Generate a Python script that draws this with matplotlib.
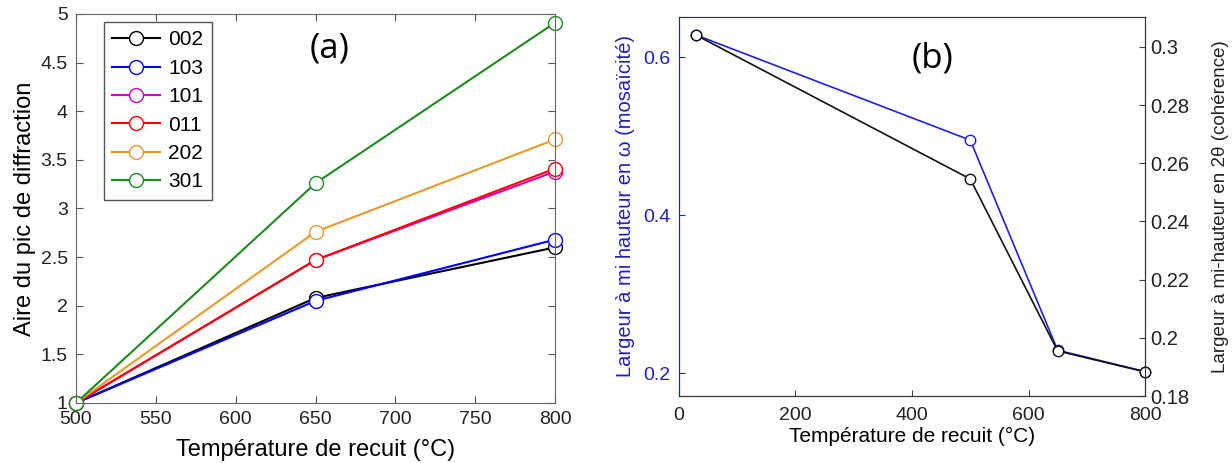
import matplotlib
matplotlib.use("Agg")
import matplotlib.pyplot as plt

plt.rcParams['font.family'] = ['Liberation Sans', 'DejaVu Sans']

# Panel (a) data
temp_a = [500, 650, 800]
labels_a = ['002', '103', '101', '011', '202', '301']
v002 = [1.0, 2.08, 2.60]
v103 = [1.0, 2.05, 2.68]
v101 = [1.0, 2.47, 3.38]
v011 = [1.0, 2.47, 3.41]
v202 = [1.0, 2.76, 3.71]
v301 = [1.0, 3.26, 4.91]
colors_a = ['#000000', '#0000ff', '#cc00cc', '#ff0000', '#e8992c', '#1e8a1e']

# Panel (b) data
temp_b = [30, 500, 650, 800]
mosaicite = [0.628, 0.495, 0.229, 0.202]
coherence = [0.304, 0.2546, 0.1955, 0.1883]

fig = plt.figure(figsize=(12.32, 4.63), dpi=100)

# ---------- panel (a) ----------
ax1 = fig.add_axes([0.0617, 0.1296, 0.3888, 0.8402])
series = [v002, v103, v101, v011, v202, v301]
for lab, vals, col in zip(labels_a, series, colors_a):
    ax1.plot(temp_a, vals, '-o', color=col, mfc='white', mec=col,
             markersize=10, lw=1.5, label=lab, clip_on=False)
ax1.set_xlim(500, 800)
ax1.set_ylim(1, 5)
ax1.set_xticks([500, 550, 600, 650, 700, 750, 800])
ax1.set_yticks([1, 1.5, 2, 2.5, 3, 3.5, 4, 4.5, 5])
ax1.set_yticklabels(['1', '1.5', '2', '2.5', '3', '3.5', '4', '4.5', '5'])
ax1.tick_params(direction='in', top=True, right=True, labelsize=14,
                length=5, color='#555555', labelcolor='#222222', pad=6)
for s in ax1.spines.values():
    s.set_color('#666666')
ax1.set_xlabel('Température de recuit (°C)', fontsize=17, labelpad=8)
ax1.set_ylabel('Aire du pic de diffraction', fontsize=17, labelpad=3)
leg = ax1.legend(loc='upper left', bbox_to_anchor=(0.058, 0.979),
                 borderaxespad=0, fontsize=15, handlelength=2.3,
                 handletextpad=0.4, labelspacing=0.45, fancybox=False,
                 edgecolor='#555555', framealpha=1)
leg.get_frame().set_linewidth(1.0)
ax1.text(0.53, 0.91, '(a)', transform=ax1.transAxes, fontsize=25,
         ha='center', va='center', family=['Open Sans', 'DejaVu Sans'])

# ---------- panel (b) ----------
ax2 = fig.add_axes([0.5511, 0.1447, 0.3783, 0.8186])
ax3 = ax2.twinx()
ax2.plot(temp_b, mosaicite, '-o', color='#2020e0', mfc='white', mec='#2020e0',
         markersize=7.5, lw=1.2, zorder=3, clip_on=False)
ax3.plot(temp_b, coherence, '-o', color='#111111', mfc='white', mec='#111111',
         markersize=7.5, lw=1.2, clip_on=False)
ax2.set_xlim(0, 800)
ax2.set_ylim(0.171, 0.651)
ax3.set_ylim(0.18, 0.3103)
ax2.set_xticks([0, 200, 400, 600, 800])
ax2.set_yticks([0.2, 0.4, 0.6])
ax3.set_yticks([0.18, 0.2, 0.22, 0.24, 0.26, 0.28, 0.3])
ax3.set_yticklabels(['0.18', '0.2', '0.22', '0.24', '0.26', '0.28', '0.3'])
ax2.tick_params(axis='x', direction='in', labelsize=14, length=4,
                color='#444444', labelcolor='#222222', pad=8)
ax2.tick_params(axis='y', direction='in', labelsize=14, length=4,
                color='#2020c0', labelcolor='#2020c0', pad=6)
ax3.tick_params(axis='y', direction='in', labelsize=14.5, length=4,
                color='#444444', labelcolor='#222222', pad=4)
ax2.spines['left'].set_color('#2020c0')
ax3.spines['left'].set_color('#2020c0')
for k in ('top', 'bottom', 'right'):
    ax2.spines[k].set_color('#333333')
    ax3.spines[k].set_color('#333333')
ax2.set_xlabel('Température de recuit (°C)', fontsize=15, labelpad=2)
ax2.set_ylabel('Largeur à mi hauteur en ω (mosaïcité)', fontsize=14.5,
               color='#2020c0', labelpad=6)
ax3.set_ylabel('Largeur à mi-hauteur en 2θ (cohérence)', fontsize=13.5,
               color='#222222', labelpad=16)
ax2.text(0.545, 0.89, '(b)', transform=ax2.transAxes, fontsize=25,
         ha='center', va='center', family=['Open Sans', 'DejaVu Sans'])

fig.savefig('out.png', dpi=100)
